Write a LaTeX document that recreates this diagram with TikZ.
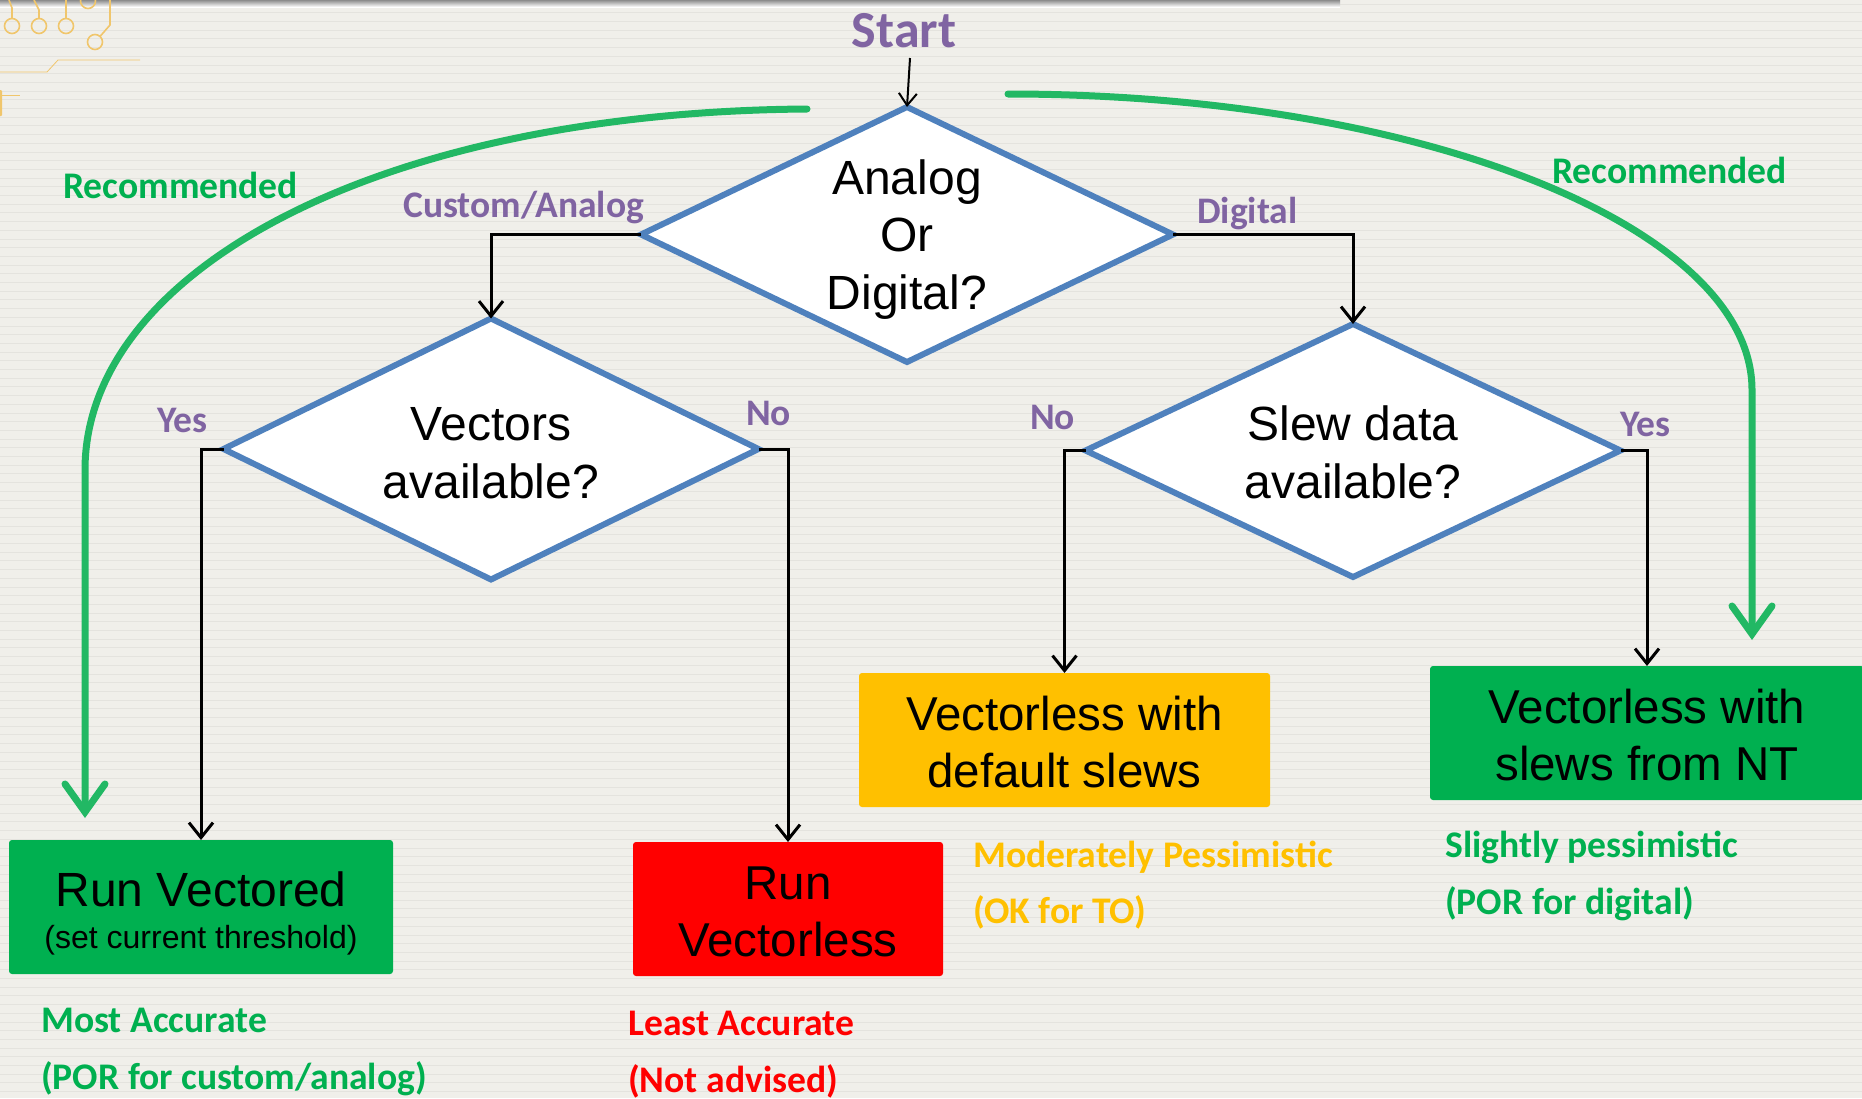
\documentclass[tikz,border=0pt]{standalone}
\usepackage{fontspec}
\setmainfont{Liberation Sans}
\newfontfamily\calfont{Carlito}
\usetikzlibrary{shapes.geometric,arrows.meta}

\definecolor{paper}{HTML}{F0EFEA}
\definecolor{paperline}{HTML}{E4E3DE}
\definecolor{trace}{HTML}{F0C66C}
\definecolor{dblue}{HTML}{4F81BD}
\definecolor{lpurple}{HTML}{8064A2}
\definecolor{okgreen}{HTML}{00B050}
\definecolor{arcgreen}{HTML}{22B864}
\definecolor{warnorange}{HTML}{FFC000}
\definecolor{badred}{HTML}{FF0000}

% invisible strut that pads the first text line from above
\newcommand{\padtop}[1]{\rule{0pt}{#1}}

\tikzset{
  decision/.style={diamond, draw=dblue, line width=6pt, fill=white,
    inner sep=0pt, outer sep=0pt, align=center,
    font=\fontsize{48pt}{57.5pt}\selectfont},
  outcome/.style={rectangle, rounded corners=3pt, inner sep=0pt, outer sep=0pt,
    align=center, text=black, minimum height=134pt,
    font=\fontsize{47.5pt}{57pt}\selectfont},
  conn/.style={draw=black, line width=3pt,
    -{Straight Barb[length=15pt,width=24pt]}},
  recarrow/.style={draw=arcgreen, line width=7pt, line cap=round,
    -{Straight Barb[length=28pt,width=40pt,line cap=round]}},
  branchlabel/.style={font=\calfont\bfseries\fontsize{37.5pt}{37.5pt}\selectfont,
    text=lpurple, inner sep=0pt, anchor=base west},
  note/.style={font=\calfont\bfseries\fontsize{37.6pt}{37.6pt}\selectfont,
    inner sep=0pt, anchor=base west},
}

\begin{document}
\begin{tikzpicture}[x=1pt,y=-1pt]
\useasboundingbox (0,0) rectangle (1862,1098);

% ruled paper background
\fill[paper] (0,0) rectangle (1862,1098);
\foreach \k in {0,...,126}
  \draw[paperline, line width=0.8pt] (0,{4+\k*8.7}) -- (1862,{4+\k*8.7});

% header strip
\shade[top color=black!45, bottom color=white] (0,0) rectangle (1340,7);

% circuit ornament in the corner
\begin{scope}[trace, line width=1.6pt]
  \draw (12,26) circle (7.5);
  \draw (39,26) circle (7.5);
  \draw (66,26) circle (7.5);
  \draw (95,42) circle (7.5);
  \draw (88,1) circle (7.5);
  \draw (12,18.5) -- (12,8) -- (9,0);
  \draw (39,18.5) -- (39,10) -- (34,0);
  \draw (66,18.5) -- (66,0);
  \draw (100,36.5) -- (110,25) -- (110,0);
  \draw[line width=0.8pt] (0,72) -- (47,72) -- (58,60) -- (140,60);
  \draw[line width=0.8pt] (0,95) -- (20,95);
  \fill[rounded corners=1pt] (-3,90) rectangle (2,116);
\end{scope}

% start marker
\node[font=\calfont\bfseries\fontsize{52pt}{52pt}\selectfont, text=lpurple,
  inner sep=0pt, anchor=base] (start) at (904,47) {Start};
\coordinate (startfoot) at (910,58);

% decisions
\node[decision, aspect=2.086, minimum width=532pt, minimum height=255pt, text depth=0pt]
  (q0) at (907,234.5) {Analog\\Or\\Digital?};
\node[decision, aspect=2.05, minimum width=535pt, minimum height=261pt]
  (q1) at (491,449) {\padtop{41.5pt}Vectors\\available?};
\node[decision, aspect=2.11, minimum width=535pt, minimum height=253pt]
  (q2) at (1353,450.5) {\padtop{38.5pt}Slew data\\available?};

% outcomes
\node[outcome, fill=okgreen, minimum width=384pt,
  font=\fontsize{32pt}{42pt}\selectfont]
  (rv) at (201,907) {{\fontsize{48pt}{42pt}\selectfont\padtop{48pt}Run Vectored}\\(set current threshold)};
\node[outcome, fill=badred, minimum width=310pt]
  (rvl) at (788,909) {\padtop{39pt}Run\\Vectorless};
\node[outcome, fill=warnorange, minimum width=411pt]
  (vds) at (1064.5,740) {\padtop{39pt}Vectorless with\\default slews};
\node[outcome, fill=okgreen, minimum width=434pt]
  (vnt) at (1647,733) {\padtop{39pt}Vectorless with\\slews from NT};

% flow connectors
\draw[draw=black, line width=2pt, -{Straight Barb[length=12pt,width=18pt]}]
  (startfoot) -- (q0.north);
\draw[conn] (q0.west) -| (q1.north);
\draw[conn] (q0.east) -| (q2.north);
\draw[conn] (q1.west) -| (rv.north);
\draw[conn] (q1.east) -| (rvl.north);
\draw[conn] (q2.west) -| (vds.north);
\draw[conn] (q2.east) -| (vnt.north);

% branch labels
\node[branchlabel] (lca) at (403,217) {Custom/Analog};
\node[branchlabel] (ldig) at (1197,223) {Digital};
\node[branchlabel] (ly1) at (157,432) {Yes};
\node[branchlabel] (ln1) at (746,425) {No};
\node[branchlabel] (ln2) at (1030,429) {No};
\node[branchlabel] (ly2) at (1620,436) {Yes};

% recommended paths
\coordinate (recLfrom) at (807,109);
\coordinate (recLto) at (85,818);
\coordinate (recRfrom) at (1008,94);
\coordinate (recRto) at (1752,640);
\draw[recarrow] (recLfrom) .. controls (380,112) and (85,270) .. (85,470) -- (recLto);
\draw[recarrow] (recRfrom) arc[start angle=-90, end angle=0,
  x radius=744, y radius=296] -- (recRto);
\node[note, text=okgreen] (recL) at (63,198) {Recommended};
\node[note, text=okgreen] (recR) at (1552,183) {Recommended};

% outcome notes
\node[note, text=okgreen] (n1a) at (41,1032) {Most Accurate};
\node[note, text=okgreen] (n1b) at (41,1089) {(POR for custom/analog)};
\node[note, text=badred] (n2a) at (628,1035) {Least Accurate};
\node[note, text=badred] (n2b) at (628,1092) {(Not advised)};
\node[note, text=warnorange] (n3a) at (973,867) {Moderately Pessimistic};
\node[note, text=warnorange] (n3b) at (973,923) {(OK for TO)};
\node[note, text=okgreen] (n4a) at (1445,857) {Slightly pessimistic};
\node[note, text=okgreen] (n4b) at (1445,914) {(POR for digital)};
\end{tikzpicture}
\end{document}
